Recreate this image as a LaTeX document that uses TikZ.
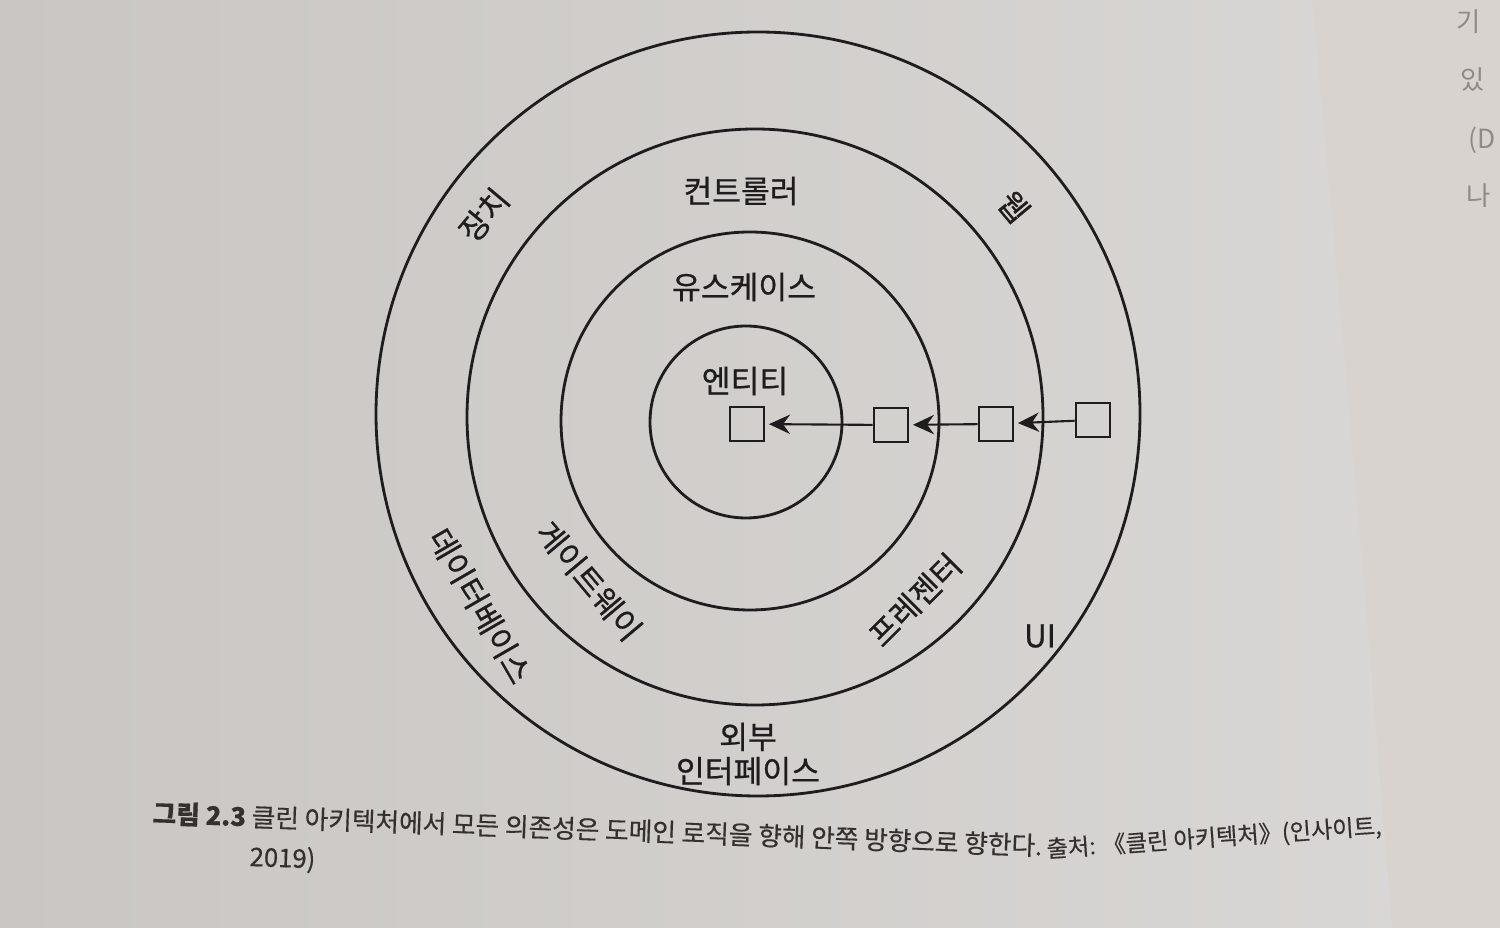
\documentclass[tikz,border=0pt]{standalone}
\usepackage{fontspec}
\setmainfont{Noto Sans CJK KR}
\newfontfamily\lblfont[FakeBold=0.7]{Noto Sans CJK KR}
\newfontfamily\capfont[FakeBold=0.5]{Noto Sans CJK KR}
\usetikzlibrary{arrows.meta}
\definecolor{pageL}{HTML}{C9C6C3}
\definecolor{pageLR}{HTML}{DAD8D6}
\definecolor{pageR}{HTML}{D8D3CE}
\definecolor{ink}{HTML}{1E1C1C}
\definecolor{capink}{HTML}{33302E}
\definecolor{faint}{HTML}{8E8A87}

\begin{document}
\begin{tikzpicture}[x=0.01cm,y=-0.01cm,
    ring/.style={line width=0.8pt,draw=ink},
    box/.style={draw=ink,line width=0.8pt,minimum size=0.34cm,inner sep=0pt},
    dep/.style={draw=ink,line width=0.6pt,-{Stealth[length=6pt,width=5.5pt,inset=2pt]},shorten >=1pt},
    lbl/.style={text=ink,font=\lblfont\fontsize{8.9}{9.7}\selectfont,inner sep=0pt},
    capline/.style={text=capink,font=\capfont\fontsize{7.3}{8}\selectfont,inner sep=0pt},
    bleed/.style={text=faint,font=\fontsize{7.5}{9}\selectfont,inner sep=0pt,anchor=west}]
      \useasboundingbox (0,0) rectangle (1500,928);
      % page and the facing page
      \shade[left color=pageL,right color=pageLR] (0,0) rectangle (1500,928);
      \fill[pageR] (1312,0) .. controls (1340,300) and (1370,650) .. (1392,928) -- (1500,928) -- (1500,0) -- cycle;
      \node[bleed] (fk1) at (1456,22) {기};
      \node[bleed] (fk2) at (1460,80) {있};
      \node[bleed] (fk3) at (1468,140) {(D};
      \node[bleed] (fk4) at (1466,196) {나};

      % layers
      \draw[ring] (758,414) circle[radius=382];
      \draw[ring] (755,417) circle[radius=288];
      \draw[ring] (750,421) circle[radius=189];
      \draw[ring] (746,422) circle[radius=96];

      \node[box] (boxE) at (747,424) {};
      \node[box] (boxU) at (891,425) {};
      \node[box] (boxC) at (996,424) {};
      \node[box] (boxO) at (1093,420) {};
      \draw[dep] (boxO) -- (boxC);
      \draw[dep] (boxC) -- (boxU);
      \draw[dep] (boxU) -- (boxE);

      \node[lbl] (ctl) at (741,191) {컨트롤러};
      \node[lbl] (uc) at (744,287) {유스케이스};
      \node[lbl] (ent) at (745,381) {엔티티};
      \node[lbl,rotate=50] (dev) at (484,215) {장치};
      \node[lbl,rotate=-50] (web) at (1014,207) {웹};
      \node[lbl,rotate=-60] (db) at (480,606) {데이터베이스};
      \node[lbl,rotate=-50] (gw) at (589,581) {게이트웨이};
      \node[lbl,rotate=45] (pr) at (915,600) {프레젠터};
      \node[lbl] (ui) at (1040,636) {UI};
      \node[lbl,align=center] (ext) at (748,754) {외부\\인터페이스};

      % caption
      \node[capline,anchor=west,rotate=-2.1] (cap1) at (152,813) {\textbf{그림 2.3} 클린 아키텍처에서 모든 의존성은 도메인 로직을 향해 안쪽 방향으로 향한다.};
      \node[capline,anchor=west,rotate=4,font=\capfont\fontsize{6.6}{8}\selectfont] (cap2) at (1046,850) {출처: 《클린 아키텍처》(인사이트,};
      \node[capline,anchor=west,rotate=-2] (cap3) at (249,858) {2019)};
\end{tikzpicture}
\end{document}
